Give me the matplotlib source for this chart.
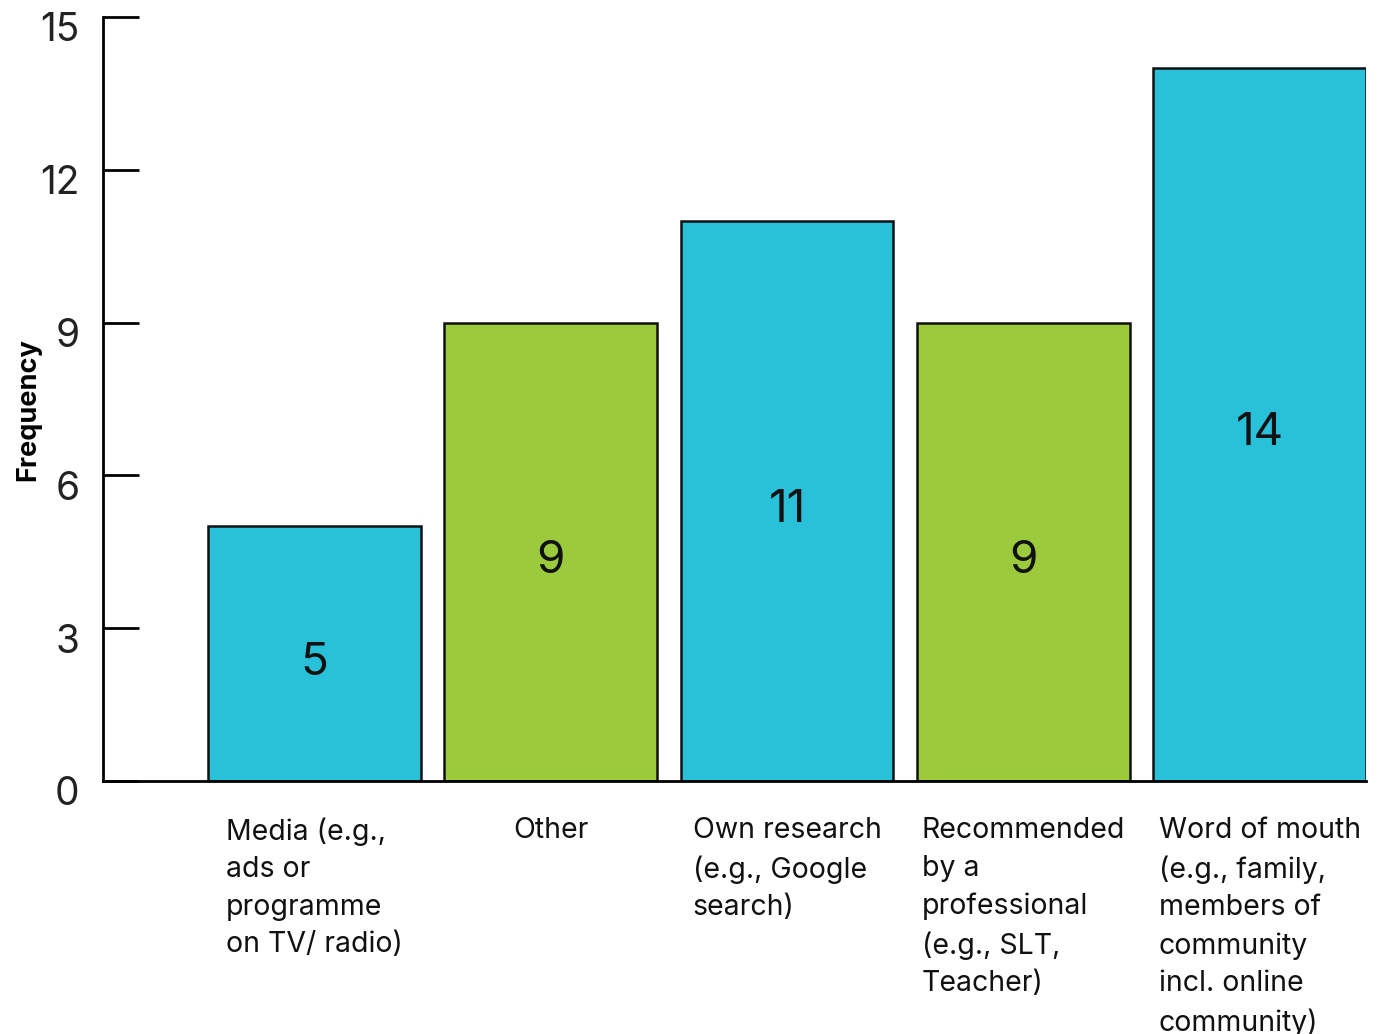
import matplotlib
matplotlib.use("Agg")
import matplotlib.pyplot as plt
import matplotlib.transforms as mtransforms

plt.rcParams["font.family"] = ["Inter", "DejaVu Sans"]

# Data
categories = [
    "Media (e.g.,\nads or\nprogramme\non TV/ radio)",
    "Other",
    "Own research\n(e.g., Google\nsearch)",
    "Recommended\nby a\nprofessional\n(e.g., SLT,\nTeacher)",
    "Word of mouth\n(e.g., family,\nmembers of\ncommunity\nincl. online\ncommunity)",
]
frequency = [5, 9, 11, 9, 14]
bar_colors = ["#29C1D9", "#9BCB3D", "#29C1D9", "#9BCB3D", "#29C1D9"]
yticks = [0, 3, 6, 9, 12, 15]

fig = plt.figure(figsize=(13.79, 10.34), dpi=100)
ax = fig.add_axes([0.0747, 0.2447, 0.9906 - 0.0747, 0.9836 - 0.2447])

x = list(range(len(categories)))
bars = ax.bar(x, frequency, width=0.9, color=bar_colors, edgecolor="#111111", linewidth=1.8)

# Value labels in the middle of each bar (nudged down a little)
down = mtransforms.ScaledTranslation(0, -9 / 100, fig.dpi_scale_trans)
for rect, val in zip(bars, frequency):
    ax.text(rect.get_x() + rect.get_width() / 2, val / 2, str(val),
            ha="center", va="center", fontsize=33, color="#111111",
            transform=ax.transData + down)

ax.set_xlim(-0.895, 4.45)
ax.set_ylim(0, 15)
ax.set_yticks(yticks)
ax.set_xticks(x)
ax.set_xticklabels(categories, fontsize=20.5, color="#111111",
                   ha="center", multialignment="left", linespacing=1.5)

ax.spines["top"].set_visible(False)
ax.spines["right"].set_visible(False)
ax.spines["left"].set_linewidth(2)
ax.spines["bottom"].set_linewidth(2)

ax.tick_params(axis="y", direction="in", length=26, width=2, pad=17,
               labelsize=28, labelcolor="#222222")
ax.tick_params(axis="x", length=0, pad=26)

# shift y tick labels slightly down like the original
offset = mtransforms.ScaledTranslation(0, -10 / 100, fig.dpi_scale_trans)
for lab in ax.get_yticklabels():
    lab.set_transform(lab.get_transform() + offset)

ax.set_ylabel("Frequency", fontsize=19.5, fontweight="bold")
ax.yaxis.set_label_coords(-0.0491, 0.4856)

fig.savefig("out.png", dpi=100)
